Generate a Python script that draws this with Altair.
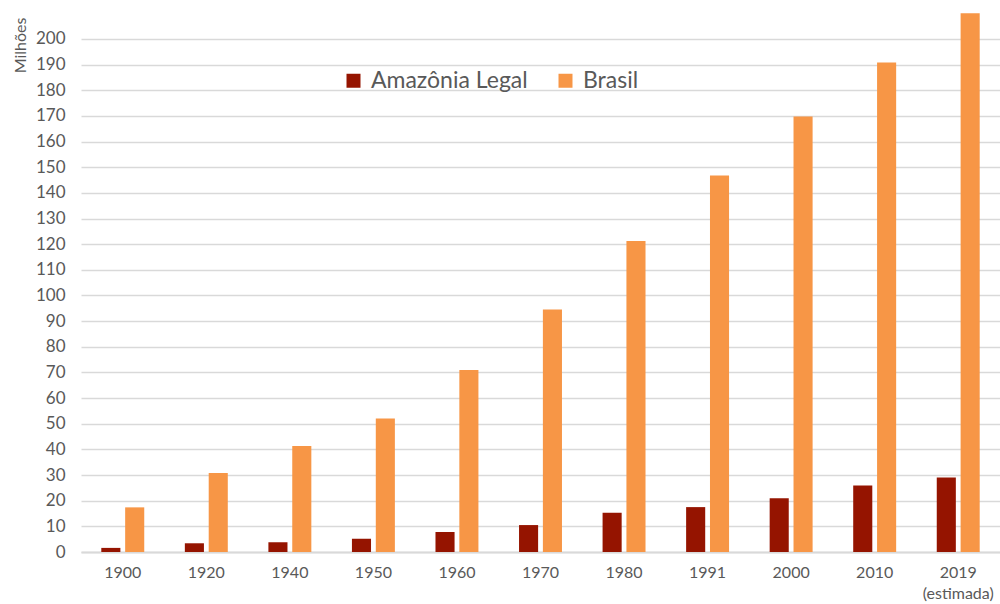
import altair as alt
import pandas as pd

# Population (millions) by census year
anos = ["1900", "1920", "1940", "1950", "1960", "1970", "1980", "1991", "2000", "2010", "2019"]
amazonia_legal = [1.6, 3.4, 3.8, 5.2, 7.8, 10.5, 15.3, 17.5, 21.0, 25.9, 29.0]
brasil = [17.4, 30.8, 41.3, 52.0, 70.9, 94.5, 121.2, 146.8, 169.8, 190.8, 210.0]
series = ["Amazônia Legal", "Brasil"]
cores = ["#951400", "#F79646"]
y_ticks = list(range(0, 201, 10))

rows = []
for ano, a, b in zip(anos, amazonia_legal, brasil):
    rows.append({"ano": ano, "serie": series[0], "valor": a})
    rows.append({"ano": ano, "serie": series[1], "valor": b})
df = pd.DataFrame(rows)

FONT = "Lato"
GRAY = "#595959"

chart = (
    alt.Chart(df)
    .mark_bar()
    .encode(
        x=alt.X(
            "ano:N",
            sort=anos,
            scale=alt.Scale(paddingInner=0.486, paddingOuter=0.243),
            axis=alt.Axis(
                title=None,
                labelAngle=0,
                ticks=False,
                domainColor="#d9d9d9",
                domainWidth=2,
                labelPadding=12,
                labelFontSize=16,
                labelColor=GRAY,
                labelFont=FONT,
                labelBaseline="top",
                labelLineHeight=21,
                labelExpr="datum.value == '2019' ? ['2019', '(estimada)'] : datum.value",
            ),
        ),
        xOffset=alt.XOffset(
            "serie:N",
            sort=series,
            scale=alt.Scale(paddingInner=0.2, paddingOuter=0),
        ),
        y=alt.Y(
            "valor:Q",
            scale=alt.Scale(domain=[0, 210.5], nice=False, zero=True),
            axis=alt.Axis(
                values=y_ticks,
                title="Milhões",
                titleFont=FONT,
                titleFontSize=16,
                titleFontWeight="normal",
                titleColor=GRAY,
                titleAngle=-90,
                titleX=-61,
                titleY=5,
                titleAlign="right",
                titleBaseline="middle",
                ticks=False,
                domain=False,
                grid=True,
                gridColor="#d9d9d9",
                gridWidth=1.5,
                labelPadding=16,
                labelFontSize=17,
                labelColor=GRAY,
                labelFont=FONT,
            ),
        ),
        color=alt.Color(
            "serie:N",
            sort=series,
            scale=alt.Scale(domain=series, range=cores),
            legend=alt.Legend(
                title=None,
                orient="none",
                direction="horizontal",
                legendX=261,
                legendY=57,
                symbolType="square",
                symbolSize=196,
                symbolStrokeWidth=0,
                labelFontSize=23,
                labelFont=FONT,
                labelColor=GRAY,
                labelOffset=6,
                labelLimit=400,
                columnPadding=26,
                padding=0,
            ),
        ),
    )
    .properties(
        width=919,
        height=540,
        background="white",
        autosize=alt.AutoSizeParams(type="none"),
        padding={"left": 81, "top": 12, "right": 0, "bottom": 52},
    )
    .configure_view(strokeWidth=0, stroke="transparent")
)

chart.save("out.html", embed_options={"renderer": "svg", "actions": False})
